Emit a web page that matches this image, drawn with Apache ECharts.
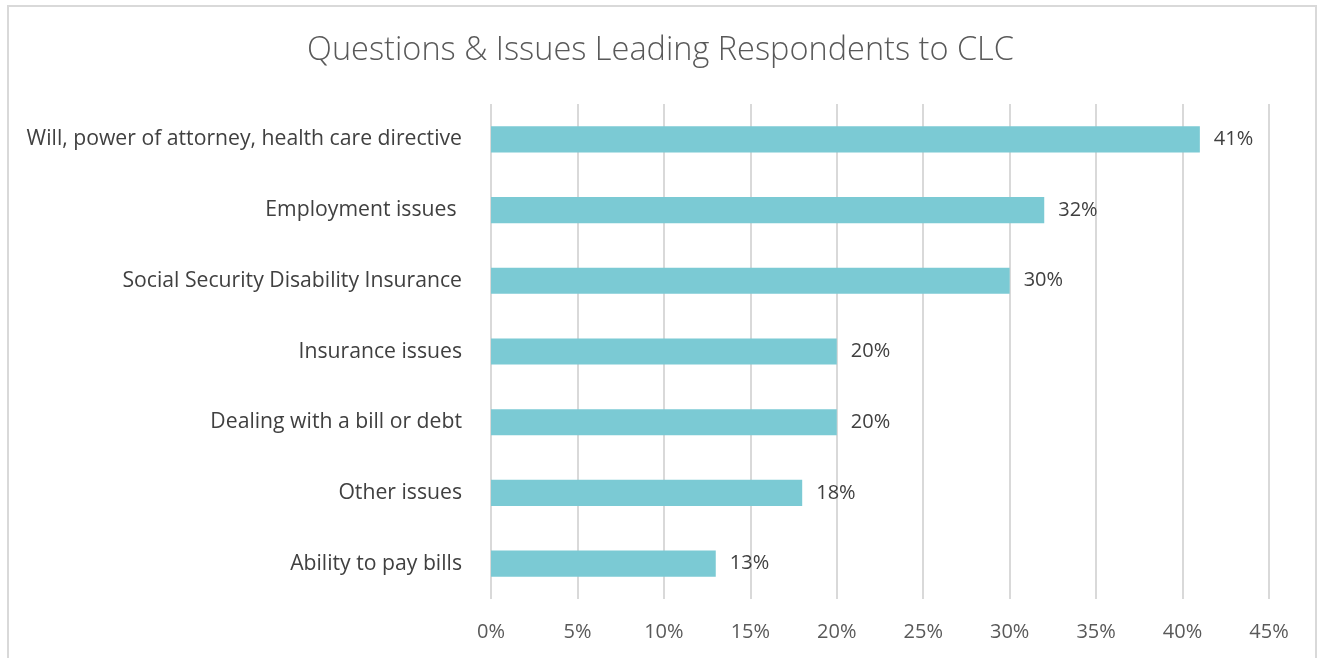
<!DOCTYPE html>
<html>
<head>
<meta charset="utf-8">
<script src="https://cdn.jsdelivr.net/npm/echarts@6/dist/echarts.min.js"></script>
<style>
  html, body { margin: 0; padding: 0; background: #fff; }
  #frame { position: absolute; left: 7px; top: 5px; width: 1310px; height: 660px; border: 2px solid #d9d9d9; box-sizing: border-box; }
  #chart { position: absolute; left: 0; top: 0; width: 1321px; height: 658px; }
</style>
</head>
<body>
<div id="frame"></div>
<div id="chart"></div>
<script>
// Survey topics, listed bottom to top as the category axis draws them
const categories = [
  'Ability to pay bills',
  'Other issues',
  'Dealing with a bill or debt',
  'Insurance issues',
  'Social Security Disability Insurance',
  'Employment issues ',
  'Will, power of attorney, health care directive'
];
// Share of respondents, percent
const shares = [13, 18, 20, 20, 30, 32, 41];
// Value axis settings (percent)
const axisMax = 45;
const axisStep = 5;

const chart = echarts.init(document.getElementById('chart'));
const font = '"Open Sans", Lato, sans-serif';
chart.setOption({
  animation: false,
  title: {
    text: 'Questions & Issues Leading Respondents to CLC',
    left: 'center',
    top: 29,
    textStyle: { fontFamily: font, fontWeight: 300, fontSize: 32.5, color: '#595959' }
  },
  grid: { left: 491, right: 52, top: 104, bottom: 59 },
  xAxis: {
    type: 'value',
    min: 0,
    max: axisMax,
    interval: axisStep,
    axisLine: { show: false },
    axisTick: { show: false },
    splitLine: { lineStyle: { color: '#d9d9d9', width: 2 } },
    axisLabel: {
      formatter: v => v + '%',
      fontFamily: font, fontSize: 20, color: '#595959', margin: 23
    }
  },
  yAxis: {
    type: 'category',
    data: categories,
    axisLine: { show: false },
    axisTick: { show: false },
    axisLabel: { fontFamily: font, fontSize: 21.2, color: '#404040', margin: 29, padding: [3, 0, 0, 0] }
  },
  series: [{
    type: 'bar',
    data: shares,
    barCategoryGap: '63%',
    itemStyle: { color: '#7bcad4' },
    label: {
      show: true,
      position: 'right',
      distance: 14,
      formatter: p => p.value + '%',
      fontFamily: font, fontSize: 20, color: '#404040'
    }
  }]
});
</script>
</body>
</html>
